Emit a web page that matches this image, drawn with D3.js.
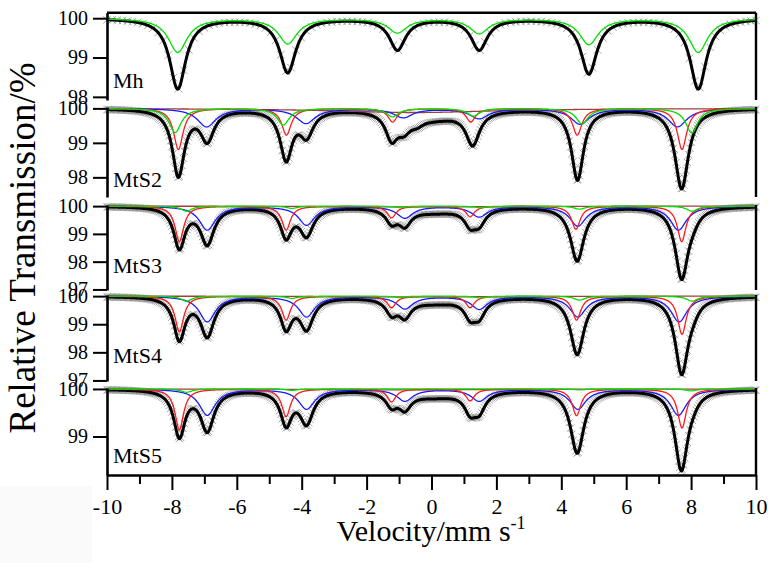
<!DOCTYPE html>
<html>
<head>
<meta charset="utf-8">
<script src="https://cdn.jsdelivr.net/npm/d3@7"></script>
<style>
  body { margin: 0; background: #fff; }
</style>
</head>
<body>
<div id="chart"></div>
<script>
// ---- values ----
// every dip is [velocity (mm/s), depth below 100 (%), line width FWHM (mm/s)]
var panelNames = ["Mh", "MtS2", "MtS3", "MtS4", "MtS5"];
var yTickValues = [[100, 99, 98], [100, 99, 98], [100, 99, 98, 97], [100, 99, 98, 97], [100, 99]];
var yDomains = [[97.92, 100.14], [97.43, 100.04], [96.98, 100.04], [96.98, 100.04], [98.19, 100.02]];
var xMajorTicks = [-10, -8, -6, -4, -2, 0, 2, 4, 6, 8, 10];
var xMinorTicks = [-9, -7, -5, -3, -1, 1, 3, 5, 7, 9];

// Mh
var mhFit = [[-7.82, 1.79, 0.6], [-4.43, 1.37, 0.6], [-1.05, 0.79, 0.6], [1.47, 0.79, 0.6], [4.85, 1.40, 0.6], [8.22, 1.79, 0.6]];
var mhGreen = [[-7.82, 0.86, 0.7], [-4.43, 0.64, 0.7], [-1.05, 0.36, 0.7], [1.47, 0.38, 0.7], [4.85, 0.66, 0.7], [8.22, 0.86, 0.7]];

// MtS2
var mts2Fit = [[-7.80, 1.92, 0.45], [-6.91, 0.88, 0.5], [-4.48, 1.42, 0.45], [-3.85, 0.72, 0.5], [-1.23, 0.74, 0.45], [-0.85, 0.42, 0.5], [-0.45, 0.18, 0.5], [0.1, 0.26, 2.0], [1.27, 0.95, 0.5], [4.50, 2.05, 0.45], [7.71, 2.32, 0.5]];
var mts2Red = [[-7.80, 1.19, 0.35], [-4.47, 0.77, 0.35], [-1.20, 0.39, 0.35], [1.21, 0.39, 0.35], [4.49, 0.77, 0.35], [7.72, 1.19, 0.35]];
var mts2Blue = [[-6.93, 0.53, 0.7], [-3.87, 0.43, 0.7], [-0.87, 0.26, 0.7], [1.47, 0.29, 0.7], [4.58, 0.45, 0.7], [7.58, 0.53, 0.7]];
var mts2Green = [[-7.90, 0.70, 0.45], [-4.57, 0.48, 0.45], [-1.20, 0.24, 0.45], [1.29, 0.22, 0.45], [4.64, 0.45, 0.45], [8.02, 0.71, 0.45]];
var mts2Brown = [[-0.5, 0.12, 6]];

// MtS3
var mts3Fit = [[-7.77, 1.46, 0.42], [-6.91, 1.33, 0.5], [-4.48, 1.05, 0.42], [-3.85, 1.0, 0.5], [-1.23, 0.48, 0.42], [-0.82, 0.55, 0.45], [0.1, 0.2, 2.2], [1.19, 0.52, 0.42], [1.47, 0.52, 0.45], [4.49, 1.95, 0.5], [7.71, 2.55, 0.48], [8.05, 0.25, 0.45]];
var mts3Red = [[-7.77, 1.28, 0.32], [-4.48, 0.86, 0.32], [-1.23, 0.42, 0.32], [1.19, 0.38, 0.32], [4.45, 0.83, 0.32], [7.71, 1.28, 0.32]];
var mts3Blue = [[-6.91, 0.86, 0.6], [-3.85, 0.68, 0.6], [-0.82, 0.42, 0.6], [1.47, 0.38, 0.6], [4.51, 0.71, 0.6], [7.61, 0.86, 0.6]];
var mts3Green = [[-7.55, 0.18, 0.4], [-4.30, 0.08, 0.4], [-1.00, 0.05, 0.4], [1.50, 0.06, 0.4], [4.56, 0.11, 0.4], [8.03, 0.18, 0.4]];
var mts3Brown = [[-0.5, 0.03, 6]];

// MtS4
var mts4Fit = [[-7.77, 1.50, 0.42], [-6.91, 1.38, 0.5], [-4.48, 1.08, 0.42], [-3.85, 1.10, 0.5], [-1.23, 0.50, 0.42], [-0.82, 0.58, 0.45], [0.1, 0.22, 2.2], [1.19, 0.56, 0.42], [1.47, 0.58, 0.45], [4.49, 2.05, 0.5], [7.71, 2.70, 0.48], [8.05, 0.25, 0.45]];
var mts4Red = [[-7.77, 1.27, 0.32], [-4.48, 0.85, 0.32], [-1.23, 0.41, 0.32], [1.19, 0.41, 0.32], [4.47, 0.85, 0.32], [7.72, 1.36, 0.32]];
var mts4Blue = [[-6.91, 0.91, 0.6], [-3.85, 0.73, 0.6], [-0.82, 0.44, 0.6], [1.47, 0.46, 0.6], [4.51, 0.73, 0.6], [7.63, 0.91, 0.6]];
var mts4Green = [[-7.55, 0.18, 0.4], [-4.30, 0.08, 0.4], [-1.00, 0.05, 0.4], [1.50, 0.06, 0.4], [4.56, 0.14, 0.4], [8.03, 0.18, 0.4]];
var mts4Brown = [[-0.5, 0.03, 6]];

// MtS5
var mts5Fit = [[-7.77, 0.97, 0.42], [-6.91, 0.85, 0.5], [-4.48, 0.70, 0.42], [-3.85, 0.68, 0.5], [-1.23, 0.28, 0.42], [-0.82, 0.32, 0.45], [0.1, 0.15, 2.2], [1.19, 0.36, 0.42], [1.47, 0.37, 0.45], [4.49, 1.33, 0.5], [7.70, 1.68, 0.48], [8.05, 0.10, 0.45]];
var mts5Red = [[-7.77, 0.86, 0.32], [-4.48, 0.58, 0.32], [-1.23, 0.27, 0.32], [1.19, 0.25, 0.32], [4.47, 0.56, 0.32], [7.72, 0.82, 0.32]];
var mts5Blue = [[-6.91, 0.55, 0.6], [-3.85, 0.42, 0.6], [-0.82, 0.25, 0.6], [1.47, 0.25, 0.6], [4.51, 0.42, 0.6], [7.61, 0.55, 0.6]];
var mts5Green = [[-7.55, 0.07, 0.4], [-4.30, 0.03, 0.4], [4.56, 0.02, 0.4], [8.00, 0.04, 0.4]];
var mts5Brown = [[-0.5, 0.02, 6]];

// number of measured channels drawn as crosses
var channelCounts = [128, 512, 512, 512, 512];

// ---- layout ----
var svgWidth = 768;
var svgHeight = 563;
var plotLeft = 107;
var plotRight = 756;
var panelTops = [12.7, 107, 205, 295, 388];
var panelBottoms = [100, 197, 290, 381, 475];
var serif = "Liberation Serif";

var colors = { fit: "#000", red: "#ff1a1a", blue: "#1a1aff", green: "#00e000", brown: "#a0403a", cross: "#858585" };

var panels = [
  { fit: mhFit, comps: [{ dips: mhGreen, color: colors.green }] },
  { fit: mts2Fit, comps: [{ dips: mts2Brown, color: colors.brown }, { dips: mts2Blue, color: colors.blue }, { dips: mts2Red, color: colors.red }, { dips: mts2Green, color: colors.green }] },
  { fit: mts3Fit, comps: [{ dips: mts3Brown, color: colors.brown }, { dips: mts3Blue, color: colors.blue }, { dips: mts3Red, color: colors.red }, { dips: mts3Green, color: colors.green }] },
  { fit: mts4Fit, comps: [{ dips: mts4Brown, color: colors.brown }, { dips: mts4Blue, color: colors.blue }, { dips: mts4Red, color: colors.red }, { dips: mts4Green, color: colors.green }] },
  { fit: mts5Fit, comps: [{ dips: mts5Brown, color: colors.brown }, { dips: mts5Blue, color: colors.blue }, { dips: mts5Red, color: colors.red }, { dips: mts5Green, color: colors.green }] }
];

// Lorentzian line shape summed over the dips of one curve
function transmission(dips, v) {
  var t = 100;
  dips.forEach(function(d) {
    var u = 2 * (v - d[0]) / d[2];
    t -= d[1] / (1 + u * u);
  });
  return t;
}

var svg = d3.select("#chart")
  .append("svg")
  .attr("width", svgWidth)
  .attr("height", svgHeight);

svg.append("rect").attr("width", svgWidth).attr("height", svgHeight).attr("fill", "#fff");
svg.append("rect").attr("x", 0).attr("y", 486).attr("width", 92).attr("height", 77).attr("fill", "#fafafa");

var xScale = d3.scaleLinear().domain([-10, 10]).range([plotLeft, plotRight]);

// fine sampling of velocity for drawing smooth curves
var vGrid = d3.range(-10, 10.0001, 0.02);

panels.forEach(function(p, i) {
  var yScale = d3.scaleLinear().domain(yDomains[i]).range([panelBottoms[i], panelTops[i]]);
  var g = svg.append("g");

  var line = d3.line()
    .x(function(v) { return xScale(v); })
    .y(function(v) { return yScale(transmission(p.fit, v)); });

  // measured points as small crosses
  var n = channelCounts[i];
  var chan = d3.range(n).map(function(k) { return -10 + 20 * k / (n - 1); });
  var cs = i === 0 ? 3.8 : 3.6;
  var crossPath = chan.map(function(v) {
    var cx = xScale(v), cy = yScale(transmission(p.fit, v));
    return "M" + (cx - cs) + "," + (cy - cs) + "L" + (cx + cs) + "," + (cy + cs) +
      "M" + (cx - cs) + "," + (cy + cs) + "L" + (cx + cs) + "," + (cy - cs);
  }).join("");
  g.append("path")
    .attr("d", crossPath)
    .attr("stroke", colors.cross)
    .attr("stroke-width", 0.75)
    .attr("fill", "none");

  // total fit
  g.append("path")
    .datum(vGrid)
    .attr("d", line)
    .attr("fill", "none")
    .attr("stroke", colors.fit)
    .attr("stroke-width", 3);

  // sub-spectra
  p.comps.forEach(function(c) {
    var compLine = d3.line()
      .x(function(v) { return xScale(v); })
      .y(function(v) { return yScale(transmission(c.dips, v)); });
    g.append("path")
      .datum(vGrid)
      .attr("d", compLine)
      .attr("fill", "none")
      .attr("stroke", c.color)
      .attr("stroke-width", 1.3);
  });

  // left axis
  var yAxis = d3.axisLeft(yScale).tickValues(yTickValues[i]).tickSize(14).tickSizeOuter(0).tickFormat(d3.format("d"));
  var ag = g.append("g")
    .attr("transform", "translate(" + plotLeft + ",0)")
    .call(yAxis);
  ag.attr("font-family", serif).attr("font-size", 20);
  ag.select(".domain").attr("stroke-width", 2.6);
  ag.selectAll(".tick line").attr("stroke-width", 2);
  ag.selectAll(".tick text")
    .attr("x", -19)
    .attr("font-family", serif)
    .attr("font-size", 20);

  // right frame
  g.append("line")
    .attr("x1", plotRight).attr("x2", plotRight)
    .attr("y1", panelTops[i]).attr("y2", panelBottoms[i])
    .attr("stroke", "#000").attr("stroke-width", 2.4);

  // sample name
  g.append("text")
    .attr("x", plotLeft + 6)
    .attr("y", [88, 187, 273, 363, 463][i])
    .attr("font-family", serif)
    .attr("font-size", 22)
    .text(panelNames[i]);
});

// top frame of first panel
svg.append("line")
  .attr("x1", plotLeft).attr("x2", plotRight)
  .attr("y1", panelTops[0]).attr("y2", panelTops[0])
  .attr("stroke", "#000").attr("stroke-width", 2.4);

// x axis
var xAxis = d3.axisBottom(xScale).tickValues(xMajorTicks).tickSize(15).tickSizeOuter(0).tickFormat(d3.format("d"));
var xg = svg.append("g")
  .attr("transform", "translate(0," + panelBottoms[4] + ")")
  .call(xAxis);
xg.attr("font-family", serif).attr("font-size", 22);
xg.select(".domain").attr("stroke-width", 2.4);
xg.selectAll(".tick line").attr("stroke-width", 2);
xg.selectAll(".tick text")
  .attr("y", 39)
  .attr("dy", 0)
  .attr("font-family", serif)
  .attr("font-size", 22)
  .text(function(d) { return d < 0 ? "-" + (-d) : d; });

svg.append("g")
  .attr("transform", "translate(0," + panelBottoms[4] + ")")
  .call(d3.axisBottom(xScale).tickValues(xMinorTicks).tickSize(9).tickFormat(""))
  .call(function(s) { s.select(".domain").remove(); s.selectAll(".tick line").attr("stroke-width", 2); });

// axis titles
var xTitle = svg.append("text")
  .attr("x", 431)
  .attr("y", 541)
  .attr("text-anchor", "middle")
  .attr("font-family", serif)
  .attr("font-size", 30);
xTitle.append("tspan").text("Velocity/mm s");
xTitle.append("tspan").attr("dy", -12).attr("font-size", 18).text("-1");

svg.append("text")
  .attr("transform", "rotate(-90)")
  .attr("x", -248)
  .attr("y", 35)
  .attr("text-anchor", "middle")
  .attr("font-family", serif)
  .attr("font-size", 37)
  .text("Relative Transmission/%");
</script>
</body>
</html>
